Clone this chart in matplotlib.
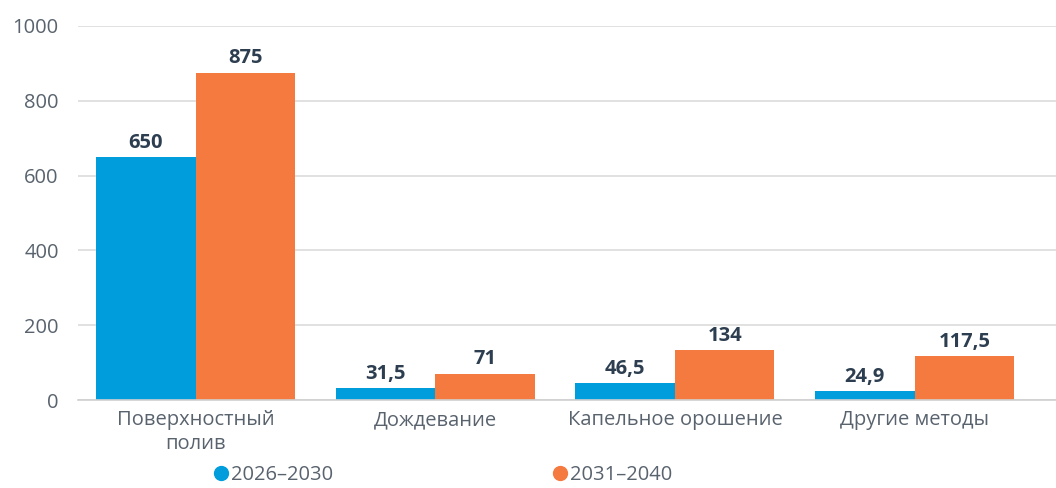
import numpy as np
import matplotlib.pyplot as plt
from matplotlib.lines import Line2D

categories = ["Поверхностный\nполив", "Дождевание", "Капельное орошение", "Другие методы"]
series_names = ["2026–2030", "2031–2040"]
values_a = [650, 31.5, 46.5, 24.9]
values_b = [875, 71, 134, 117.5]
labels_a = ["650", "31,5", "46,5", "24,9"]
labels_b = ["875", "71", "134", "117,5"]
yticks = [0, 200, 400, 600, 800, 1000]

blue = "#009ddc"
orange = "#f47a40"

plt.rcParams['font.family'] = ['Open Sans', 'DejaVu Sans']

fig = plt.figure(figsize=(10.56, 4.88), dpi=100)
ax = fig.add_axes([0.074, 0.18, 0.926, 0.767])

x = np.arange(len(categories))
w = 0.415
bars_a = ax.bar(x - w / 2, values_a, w, color=blue)
bars_b = ax.bar(x + w / 2, values_b, w, color=orange)

for bars, labs in ((bars_a, labels_a), (bars_b, labels_b)):
    for b, t in zip(bars, labs):
        ax.annotate(t, (b.get_x() + b.get_width() / 2, b.get_height()),
                    xytext=(0, 3), textcoords="offset points",
                    ha="center", va="bottom", fontsize=14.5, fontweight="bold",
                    color="#2d3e50")

ax.set_xlim(-0.49, 3.59)
ax.set_ylim(0, 1000)
ax.set_yticks(yticks)
ax.set_xticks(x)
ax.set_xticklabels(categories, linespacing=1.25)
ax.tick_params(axis="both", length=0, labelsize=14.5, colors="#59636e")
ax.tick_params(axis="x", pad=7)
ax.tick_params(axis="y", pad=14)
ax.grid(axis="y", color="#dcdcdc", linewidth=1.2)
ax.set_axisbelow(True)
for s in ("top", "right", "left"):
    ax.spines[s].set_visible(False)
ax.spines["bottom"].set_color("#d0d0d0")
ax.spines["bottom"].set_linewidth(1.2)

handles = [Line2D([], [], marker="o", linestyle="", markersize=10, color=c)
           for c in (blue, orange)]
fig.legend(handles, series_names, loc="center left", bbox_to_anchor=(0.186, 0.026),
           ncol=2, frameon=False, fontsize=14.5, handletextpad=0.0,
           columnspacing=10.8, labelcolor="#59636e", handlelength=1.0,
           borderpad=0.2)

fig.savefig("out.png", dpi=100)
